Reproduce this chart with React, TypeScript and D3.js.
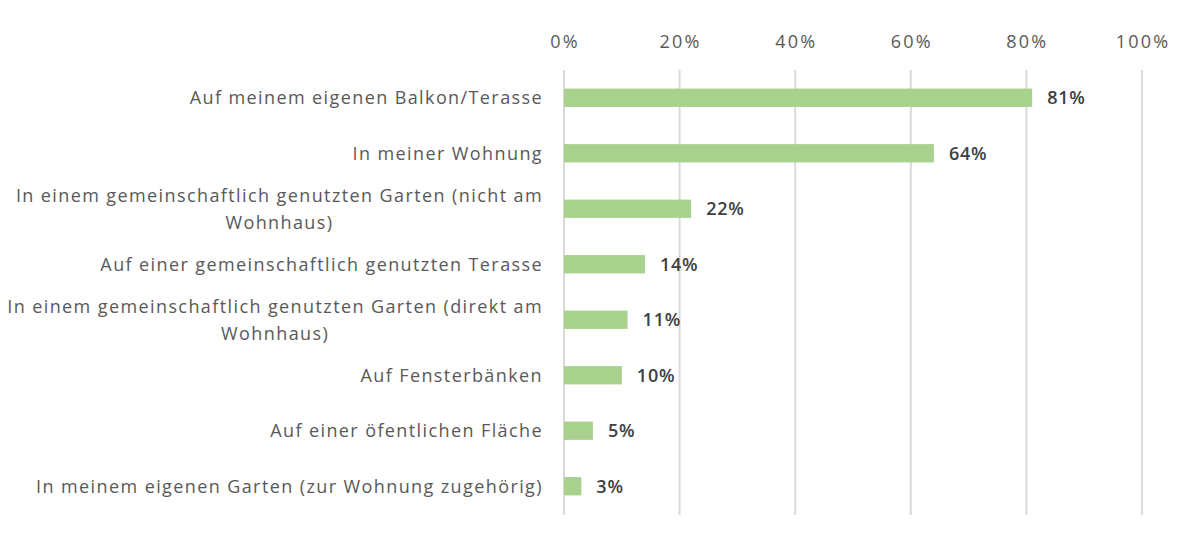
import React from 'react';
import * as d3 from 'd3';

const categories = [
  'Auf meinem eigenen Balkon/Terasse',
  'In meiner Wohnung',
  'In einem gemeinschaftlich genutzten Garten (nicht am|Wohnhaus)',
  'Auf einer gemeinschaftlich genutzten Terasse',
  'In einem gemeinschaftlich genutzten Garten (direkt am|Wohnhaus)',
  'Auf Fensterbänken',
  'Auf einer öfentlichen Fläche',
  'In meinem eigenen Garten (zur Wohnung zugehörig)',
];
const values = [0.81, 0.64, 0.22, 0.14, 0.11, 0.1, 0.05, 0.03];
const ticks = [0, 0.2, 0.4, 0.6, 0.8, 1];

const FONT = '"Open Sans", sans-serif';

const App = () => {
  const ref = React.useRef<SVGSVGElement>(null);

  React.useEffect(() => {
    const svg = d3.select(ref.current);
    svg.selectAll('*').remove();

    const width = 1196;
    const height = 535;
    const left = 564;
    const right = 1142;

    const x = d3.scaleLinear().domain([0, 1]).range([left, right]);
    const y = d3.scaleBand().domain(categories).range([70, 514]).paddingInner(0.67).paddingOuter(0.335);

    svg.attr('width', width).attr('height', height);

    // gridlines
    svg.append('g')
      .selectAll('line')
      .data(ticks)
      .join('line')
      .attr('x1', d => x(d))
      .attr('x2', d => x(d))
      .attr('y1', 70)
      .attr('y2', 515)
      .attr('stroke', '#d9d9d9')
      .attr('stroke-width', 2);

    // tick labels
    svg.append('g')
      .selectAll('text')
      .data(ticks)
      .join('text')
      .attr('x', d => x(d) + 1)
      .attr('y', 48)
      .attr('text-anchor', 'middle')
      .attr('font-family', FONT)
      .attr('font-size', 18)
      .attr('letter-spacing', 2.2)
      .attr('fill', '#595959')
      .text(d => d3.format('.0%')(d));

    // bars
    svg.append('g')
      .selectAll('rect')
      .data(categories)
      .join('rect')
      .attr('x', x(0))
      .attr('y', d => y(d)!)
      .attr('width', (d, i) => x(values[i]) - x(0))
      .attr('height', y.bandwidth())
      .attr('fill', '#a9d18e');

    // value labels
    svg.append('g')
      .selectAll('text')
      .data(categories)
      .join('text')
      .attr('x', (d, i) => x(values[i]) + 15)
      .attr('y', d => y(d)! + y.bandwidth() / 2)
      .attr('dy', '0.35em')
      .attr('font-family', FONT)
      .attr('font-size', 18)
      .attr('letter-spacing', 0.8)
      .attr('font-weight', 600)
      .attr('fill', '#404040')
      .text((d, i) => d3.format('.0%')(values[i]));

    // category labels, wrapped ones are centred on their block
    const labelRight = 543;
    categories.forEach(cat => {
      const lines = cat.split('|');
      const cy = y(cat)! + y.bandwidth() / 2;
      const g = svg.append('g');
      const texts = lines.map((line, j) =>
        g.append('text')
          .attr('y', cy + (j - (lines.length - 1) / 2) * 27)
          .attr('dy', '0.35em')
          .attr('font-family', FONT)
          .attr('font-size', 18)
          .attr('letter-spacing', 1.4)
          .attr('fill', '#595959')
          .text(line)
      );
      if (lines.length === 1) {
        texts[0].attr('x', labelRight).attr('text-anchor', 'end');
      } else {
        const w = d3.max(texts, t => (t.node() as SVGTextElement).getComputedTextLength()) || 0;
        texts.forEach(t => t.attr('x', labelRight - w / 2).attr('text-anchor', 'middle'));
      }
    });
  }, []);

  return <svg ref={ref} style={{ position: 'absolute', left: 0, top: 0 }}></svg>;
};

export default App;
